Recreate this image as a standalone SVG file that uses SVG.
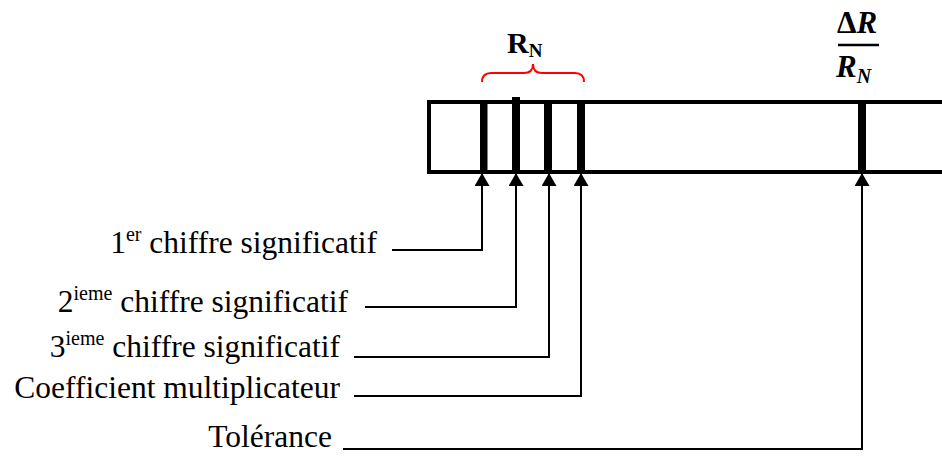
<svg xmlns="http://www.w3.org/2000/svg" width="942" height="459" viewBox="0 0 942 459">
<style>
  .lbl { font-family: "Liberation Serif", "Times New Roman", serif; font-size: 31.5px; fill: #000; }
  .sup { font-size: 20px; }
  .conn { fill: none; stroke: #000; stroke-width: 2; }
  .band { fill: #000; }
  .math { font-family: "Liberation Serif", "DejaVu Serif", serif; font-weight: bold; fill: #000; }
</style>
<defs>
  <marker id="arrow" markerUnits="userSpaceOnUse" viewBox="0 0 13 15" refX="13" refY="7.5" markerWidth="13" markerHeight="15" orient="auto">
    <path d="M0,0 L13,7.5 L0,15 Z" fill="#000"/>
  </marker>
</defs>
<rect width="942" height="459" fill="#fff"/>

<g id="resistor">
  <rect x="429" y="102" width="540" height="70" fill="none" stroke="#000" stroke-width="4"/>
  <rect class="band" x="480" y="100" width="7.5" height="74"/>
  <rect class="band" x="512" y="97" width="8" height="77"/>
  <rect class="band" x="544" y="100" width="8" height="74"/>
  <rect class="band" x="577" y="100" width="8" height="74"/>
  <rect class="band" x="858" y="100" width="8" height="74"/>
</g>

<g id="rn-label">
  <path d="M482,82 Q482,73 491,73 L524,73 Q533,73 533,64 Q533,73 542,73 L575,73 Q584,73 584,82" fill="none" stroke="#ff0000" stroke-width="2"/>
  <text class="math" x="507" y="53" font-size="30">R<tspan font-size="19" dy="4">N</tspan></text>
</g>

<g id="tol-label">
  <text class="math" x="837" y="33" font-size="31">Δ<tspan font-style="italic">R</tspan></text>
  <line x1="838" y1="45" x2="879" y2="45" stroke="#000" stroke-width="2.5"/>
  <text class="math" x="836" y="77" font-size="31" font-style="italic">R<tspan font-size="20" dy="6">N</tspan></text>
</g>

<g id="connectors">
  <path class="conn" d="M392,250 H482 V173" marker-end="url(#arrow)"/>
  <path class="conn" d="M365,307 H516 V173" marker-end="url(#arrow)"/>
  <path class="conn" d="M354,357 H549 V173" marker-end="url(#arrow)"/>
  <path class="conn" d="M354,396 H581 V173" marker-end="url(#arrow)"/>
  <path class="conn" d="M343,449 H862 V173" marker-end="url(#arrow)"/>
</g>

<g id="label-1">
  <text class="lbl" x="377" y="253" text-anchor="end">1<tspan class="sup" dy="-12">er</tspan><tspan dy="12"> chiffre significatif</tspan></text>
</g>
<g id="label-2">
  <text class="lbl" x="348" y="312" text-anchor="end">2<tspan class="sup" dy="-12">ieme</tspan><tspan dy="12"> chiffre significatif</tspan></text>
</g>
<g id="label-3">
  <text class="lbl" x="340" y="357" text-anchor="end">3<tspan class="sup" dy="-12">ieme</tspan><tspan dy="12"> chiffre significatif</tspan></text>
</g>
<g id="label-4">
  <text class="lbl" x="340" y="398" text-anchor="end">Coefficient multiplicateur</text>
</g>
<g id="label-5">
  <text class="lbl" x="332" y="447" text-anchor="end">Tolérance</text>
</g>
</svg>
